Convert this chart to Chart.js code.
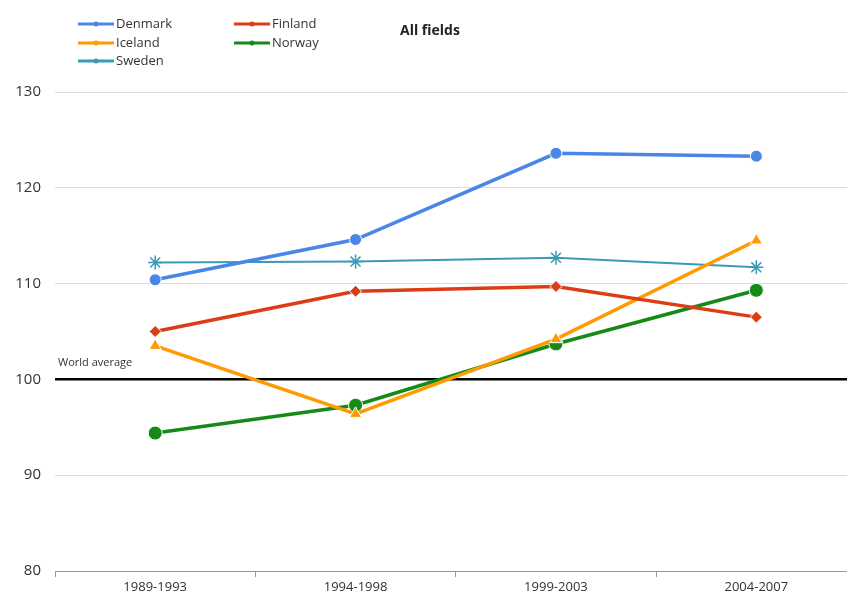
<!DOCTYPE html>
<html>
<head>
<meta charset="utf-8">
<script src="https://cdn.jsdelivr.net/npm/chart.js@4"></script>
<style>
  html, body { margin: 0; padding: 0; background: #fff; overflow: hidden; }
  #wrap { width: 847px; height: 601px; overflow: hidden; }
</style>
</head>
<body>
<div id="wrap"><canvas id="chart" width="865" height="601"></canvas></div>
<script>
// Data
var periods = ["1989-1993", "1994-1998", "1999-2003", "2004-2007"];
var denmark = [110.4, 114.6, 123.6, 123.3];
var finland = [105.0, 109.2, 109.7, 106.5];
var iceland = [103.5, 96.4, 104.2, 114.5];
var norway  = [94.4, 97.3, 103.7, 109.3];
var sweden  = [112.2, 112.3, 112.7, 111.7];
var yTicks = [80, 90, 100, 110, 120, 130];

var fontName = "'Open Sans', 'DejaVu Sans', sans-serif";

function serie(label, data, color, style, radius, width) {
    return {
        label: label,
        data: data,
        borderColor: color,
        backgroundColor: color,
        pointBackgroundColor: color,
        pointBorderColor: style === 'star' ? color : '#fff',
        pointBorderWidth: style === 'star' ? 1.5 : 1,
        pointStyle: style,
        pointRadius: radius,
        borderWidth: width,
        fill: false,
        tension: 0
    };
}

var datasets = [
    serie("Denmark", denmark, "#4a86e8", "circle", 6, 3.5),
    serie("Finland", finland, "#dc3d17", "rectRot", 6, 3.5),
    serie("Iceland", iceland, "#ff9a00", "triangle", 7, 3.5),
    serie("Norway", norway, "#168a16", "circle", 7, 3.5),
    serie("Sweden", sweden, "#3a9ab5", "star", 7, 2)
];

// legend + title + label for world average
var extras = {
    id: 'extras',
    afterDraw: function (chart) {
        var c = chart.ctx;
        var spots = [
            [78, 24], [234, 24],
            [78, 43], [234, 43],
            [78, 61]
        ];
        c.save();
        chart.data.datasets.forEach(function (ds, i) {
            var x = spots[i][0], y = spots[i][1];
            c.strokeStyle = ds.borderColor;
            c.lineWidth = 3;
            c.beginPath();
            c.moveTo(x, y);
            c.lineTo(x + 36, y);
            c.stroke();
            c.fillStyle = ds.borderColor;
            c.beginPath();
            c.arc(x + 18, y, 2.5, 0, Math.PI * 2);
            c.fill();
            c.fillStyle = '#333';
            c.font = '13px ' + fontName;
            c.textAlign = 'left';
            c.textBaseline = 'middle';
            c.fillText(ds.label, x + 38, y);
        });
        c.font = 'bold 14px ' + fontName;
        c.fillStyle = '#222';
        c.fillText('All fields', 400, 31);

        var yPix = chart.scales.y.getPixelForValue(100);
        c.font = '11px ' + fontName;
        c.fillStyle = '#333';
        c.textBaseline = 'bottom';
        c.fillText('World average', 58, yPix - 11);
        c.restore();
    }
};

var ctx = document.getElementById('chart').getContext('2d');
var chart = new Chart(ctx, {
    type: 'line',
    data: { labels: periods, datasets: datasets },
    plugins: [extras],
    options: {
        responsive: false,
        animation: false,
        layout: { padding: { top: 92, right: 0, left: 0, bottom: 0 } },
        plugins: {
            legend: { display: false },
            tooltip: { enabled: false }
        },
        scales: {
            x: {
                offset: true,
                grid: {
                    offset: true,
                    drawOnChartArea: false,
                    drawTicks: true,
                    tickLength: 6,
                    color: '#999'
                },
                border: { display: true, color: '#999', width: 1 },
                ticks: {
                    color: '#333',
                    font: { family: fontName, size: 13 },
                    padding: 2
                },
                afterFit: function (s) { s.height = 30; }
            },
            y: {
                min: 80,
                max: 130,
                afterBuildTicks: function (s) {
                    s.ticks = yTicks.map(function (v) { return { value: v }; });
                },
                grid: {
                    drawTicks: false,
                    color: function (c) { return c.tick && c.tick.value === 100 ? '#000' : '#dcdcdc'; },
                    lineWidth: function (c) { return c.tick && c.tick.value === 100 ? 2.5 : 1; }
                },
                border: { display: false },
                ticks: {
                    color: '#333',
                    font: { family: fontName, size: 15 },
                    padding: 14
                },
                afterFit: function (s) { s.width = 55; }
            }
        }
    }
});
</script>
</body>
</html>
